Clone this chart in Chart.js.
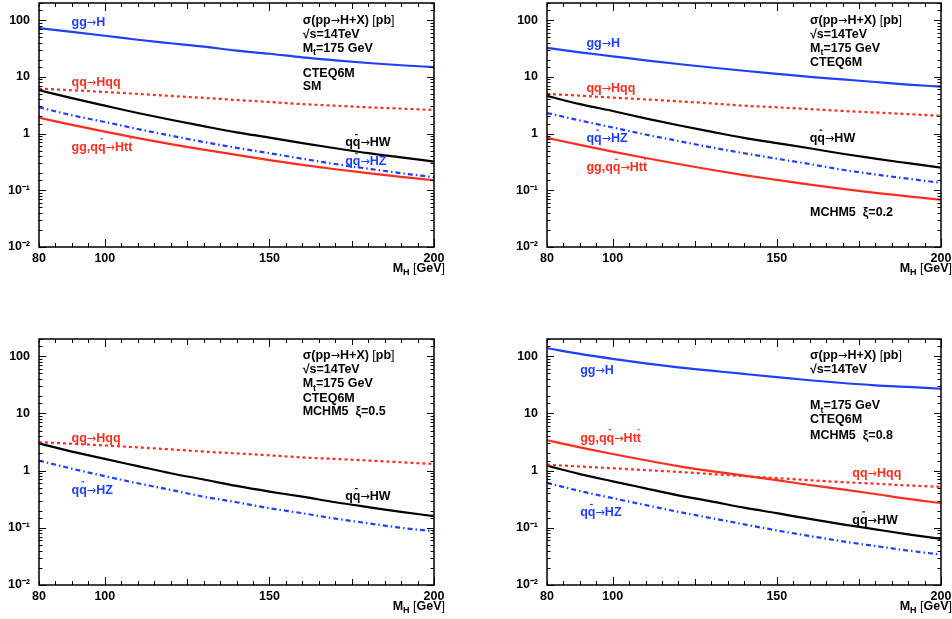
<!DOCTYPE html>
<html>
<head>
<meta charset="utf-8">
<script src="https://cdn.jsdelivr.net/npm/chart.js@4"></script>
<style>
 body { margin:0; background:#fff; }
 .panel { position:absolute; width:476px; height:310px; }
</style>
</head>
<body>
<div class="panel" style="left:0;top:0"><canvas id="c1"></canvas></div>
<div class="panel" style="left:476px;top:0"><canvas id="c2"></canvas></div>
<div class="panel" style="left:0;top:310px"><canvas id="c3"></canvas></div>
<div class="panel" style="left:476px;top:310px"><canvas id="c4"></canvas></div>
<script>
// Higgs mass points (GeV)
const massH = [80, 90, 100, 110, 120, 130, 140, 150, 160, 170, 180, 190, 200];

// cross sections in pb, SM
const smGGH = [72, 62, 53, 45, 39, 34, 29, 25.5, 22, 19.5, 17.5, 16, 14.8];
const smHqq = [6.2, 5.8, 5.4, 5.0, 4.6, 4.25, 3.9, 3.6, 3.3, 3.1, 2.9, 2.75, 2.6];
const smHW  = [5.8, 4.2, 3.1, 2.3, 1.75, 1.35, 1.05, 0.85, 0.68, 0.55, 0.45, 0.38, 0.32];
const smHZ  = [2.9, 2.1, 1.6, 1.2, 0.92, 0.71, 0.56, 0.45, 0.36, 0.29, 0.24, 0.2, 0.17];
const smHtt = [1.9, 1.42, 1.08, 0.83, 0.65, 0.52, 0.42, 0.34, 0.28, 0.235, 0.2, 0.172, 0.15];

// MCHM5 xi=0.2
const x2GGH = [32.5, 27, 23, 19.5, 16.8, 14.6, 12.8, 11.3, 10, 9, 8.1, 7.3, 6.7];
const x2Hqq = [5.0, 4.65, 4.3, 4.0, 3.7, 3.4, 3.1, 2.9, 2.7, 2.5, 2.35, 2.2, 2.05];
const x2HW  = [4.6, 3.3, 2.5, 1.85, 1.4, 1.08, 0.84, 0.68, 0.55, 0.44, 0.36, 0.3, 0.25];
const x2HZ  = [2.3, 1.7, 1.28, 0.96, 0.74, 0.57, 0.45, 0.36, 0.29, 0.23, 0.19, 0.16, 0.135];
const x2Htt = [0.84, 0.63, 0.48, 0.37, 0.29, 0.23, 0.185, 0.152, 0.126, 0.106, 0.09, 0.078, 0.068];

// MCHM5 xi=0.5 (no gg->H, no ttH)
const x5Hqq = [3.15, 2.95, 2.75, 2.55, 2.35, 2.15, 2.0, 1.85, 1.7, 1.6, 1.5, 1.4, 1.3];
const x5HW  = [3.0, 2.15, 1.6, 1.2, 0.9, 0.7, 0.54, 0.43, 0.35, 0.28, 0.23, 0.19, 0.16];
const x5HZ  = [1.5, 1.08, 0.8, 0.6, 0.46, 0.35, 0.28, 0.22, 0.18, 0.145, 0.12, 0.1, 0.087];

// MCHM5 xi=0.8
const x8GGH = [138, 110, 90, 75, 64, 56, 49, 43, 38, 34, 31, 29, 27];
const x8Htt = [3.4, 2.55, 1.95, 1.52, 1.2, 0.98, 0.82, 0.68, 0.56, 0.47, 0.39, 0.32, 0.27];
const x8Hqq = [1.27, 1.18, 1.1, 1.02, 0.95, 0.87, 0.8, 0.74, 0.68, 0.63, 0.59, 0.55, 0.52];
const x8HW  = [1.22, 0.87, 0.65, 0.49, 0.37, 0.29, 0.225, 0.18, 0.143, 0.115, 0.094, 0.077, 0.064];
const x8HZ  = [0.61, 0.44, 0.33, 0.25, 0.19, 0.148, 0.115, 0.09, 0.072, 0.058, 0.048, 0.04, 0.034];

const xTickLabels = [80, 100, 150, 200];
const yTickLabels = {100: '100', 10: '10', 1: '1', 0.1: '10\u207B\u00B9', 0.01: '10\u207B\u00B2'};

const BLUE = '#1f3fff', RED = '#ff2d1e', BLACK = '#000';
const FONT = '"Liberation Sans", Arial, Helvetica, sans-serif';
const ARROW_FONT = '"DejaVu Sans", sans-serif';

// curve styles
const styles = {
  ggH: {color: BLUE, dash: []},
  Hqq: {color: RED, dash: [3, 3]},
  HW:  {color: BLACK, dash: []},
  HZ:  {color: BLUE, dash: [5, 3, 1.5, 3]},
  Htt: {color: RED, dash: []}
};

// labels: [markup, x(GeV), y(pb), colour]; _{..} sub, #b{..} overbar, #n{..} normal weight
const header = [
  ['\u03C3(pp\u2192H+X) #n{[}pb#n{]}', 160.1, 104, BLACK],
  ['\u221As=14TeV', 160.1, 59, BLACK]
];

const panels = [
  {id: 'c1', yWidth: 39, top: 3, xHeight: 63,
   series: [['ggH', smGGH], ['Hqq', smHqq], ['HW', smHW], ['HZ', smHZ], ['Htt', smHtt]],
   labels: header.concat([
     ['M_{t}=175 GeV', 160.1, 33, BLACK],
     ['CTEQ6M', 160.1, 12.1, BLACK],
     ['SM', 160.1, 7.1, BLACK],
     ['gg\u2192H', 89.9, 94, BLUE],
     ['qq\u2192Hqq', 89.9, 8.3, RED],
     ['gg,q#b{q}\u2192Ht#b{t}', 89.9, 0.6, RED],
     ['q#b{q}\u2192HW', 173, 0.71, BLACK],
     ['q#b{q}\u2192HZ', 173, 0.33, BLUE]
   ])},
  {id: 'c2', yWidth: 71, top: 3, xHeight: 63,
   series: [['ggH', x2GGH], ['Hqq', x2Hqq], ['HW', x2HW], ['HZ', x2HZ], ['Htt', x2Htt]],
   labels: header.concat([
     ['M_{t}=175 GeV', 160.1, 33, BLACK],
     ['CTEQ6M', 160.1, 18.3, BLACK],
     ['MCHM5  \u03BE=0.2', 160.1, 0.042, BLACK],
     ['gg\u2192H', 92, 40, BLUE],
     ['qq\u2192Hqq', 92, 6.4, RED],
     ['q#b{q}\u2192HZ', 92, 0.85, BLUE],
     ['gg,q#b{q}\u2192Ht#b{t}', 92, 0.26, RED],
     ['q#b{q}\u2192HW', 160, 0.85, BLACK]
   ])},
  {id: 'c3', yWidth: 39, top: 29, xHeight: 35,
   series: [['Hqq', x5Hqq], ['HW', x5HW], ['HZ', x5HZ]],
   labels: [
     ['\u03C3(pp\u2192H+X) #n{[}pb#n{]}', 160.1, 106, BLACK],
     ['\u221As=14TeV', 160.1, 61.5, BLACK],
     ['M_{t}=175 GeV', 160.1, 34.5, BLACK],
     ['CTEQ6M', 160.1, 18.8, BLACK],
     ['MCHM5  \u03BE=0.5', 160.1, 11.2, BLACK],
     ['qq\u2192Hqq', 89.9, 3.86, RED],
     ['q#b{q}\u2192HZ', 89.9, 0.476, BLUE],
     ['q#b{q}\u2192HW', 173, 0.36, BLACK]
   ]},
  {id: 'c4', yWidth: 71, top: 29, xHeight: 35,
   series: [['ggH', x8GGH], ['Htt', x8Htt], ['Hqq', x8Hqq], ['HW', x8HW], ['HZ', x8HZ]],
   labels: [
     ['\u03C3(pp\u2192H+X) #n{[}pb#n{]}', 160.1, 106, BLACK],
     ['\u221As=14TeV', 160.1, 61.5, BLACK],
     ['M_{t}=175 GeV', 160.1, 14.3, BLACK],
     ['CTEQ6M', 160.1, 8.0, BLACK],
     ['MCHM5  \u03BE=0.8', 160.1, 4.24, BLACK],
     ['gg\u2192H', 90.1, 59, BLUE],
     ['gg,q#b{q}\u2192Ht#b{t}', 90.1, 3.86, RED],
     ['qq\u2192Hqq', 173, 0.92, RED],
     ['q#b{q}\u2192HZ', 90.1, 0.19, BLUE],
     ['q#b{q}\u2192HW', 173, 0.141, BLACK]
   ]}
];

// split tiny markup into segments, arrows get their own segment
function parseMarkup(s){
  const segs = [];
  const re = /(_\{([^}]*)\})|(#b\{([^}]*)\})|(#n\{([^}]*)\})|(\u2192)|([^_#\u2192]+)/g;
  let m;
  while ((m = re.exec(s)) !== null) {
    if (m[1]) segs.push({t: m[2], sub: true});
    else if (m[3]) segs.push({t: m[4], bar: true});
    else if (m[5]) segs.push({t: m[6], normal: true});
    else if (m[7]) segs.push({t: m[7], arrow: true});
    else segs.push({t: m[8]});
  }
  return segs;
}

function drawRich(ctx, text, x, y, color, size, align){
  const segs = parseMarkup(text);
  const fontOf = sg => {
    if (sg.arrow) return size * 0.9 + 'px ' + ARROW_FONT;
    return (sg.normal ? '' : 'bold ') + (sg.sub ? size * 0.72 : size) + 'px ' + FONT;
  };
  let total = 0;
  segs.forEach(sg => { ctx.font = fontOf(sg); total += ctx.measureText(sg.t).width; });
  let cx = align === 'right' ? x - total : x;
  ctx.fillStyle = color;
  ctx.strokeStyle = color;
  ctx.textBaseline = 'alphabetic';
  ctx.textAlign = 'left';
  const base = y + size * 0.36;
  segs.forEach(sg => {
    ctx.font = fontOf(sg);
    const w = ctx.measureText(sg.t).width;
    ctx.fillText(sg.t, cx, sg.sub ? base + size * 0.28 : base);
    if (sg.bar) {
      ctx.lineWidth = 1.2;
      ctx.setLineDash([]);
      ctx.beginPath();
      ctx.moveTo(cx + w * 0.3, base - size * 0.95);
      ctx.lineTo(cx + w * 0.65, base - size * 0.95);
      ctx.stroke();
    }
    cx += w;
  });
}

const rootDecor = {
  id: 'rootDecor',
  afterDatasetsDraw(chart, args, opts){
    const ctx = chart.ctx;
    const a = chart.chartArea;
    const xs = chart.scales.x, ys = chart.scales.y;
    ctx.save();
    ctx.strokeStyle = '#000';
    ctx.setLineDash([]);
    // inward ticks on all four sides
    ctx.lineWidth = 1;
    ctx.beginPath();
    xs.ticks.forEach(t => {
      const px = Math.round(xs.getPixelForValue(t.value)) + 0.5;
      const len = t.value % 50 === 0 ? 8 : (t.value % 25 === 0 ? 6 : 4);
      ctx.moveTo(px, a.bottom); ctx.lineTo(px, a.bottom - len);
      ctx.moveTo(px, a.top); ctx.lineTo(px, a.top + len);
    });
    ys.ticks.forEach(t => {
      if (t.value > ys.max || t.value < ys.min) return;
      const py = Math.round(ys.getPixelForValue(t.value)) + 0.5;
      const lg = Math.log10(t.value);
      const len = Math.abs(lg - Math.round(lg)) < 1e-6 ? 7 : 3.5;
      ctx.moveTo(a.left, py); ctx.lineTo(a.left + len, py);
      ctx.moveTo(a.right, py); ctx.lineTo(a.right - len, py);
    });
    ctx.stroke();
    // frame
    ctx.lineWidth = 1.5;
    ctx.strokeRect(a.left, a.top, a.right - a.left, a.bottom - a.top);
    // text labels placed in data coordinates
    opts.labels.forEach(l => {
      drawRich(ctx, l[0], xs.getPixelForValue(l[1]), ys.getPixelForValue(l[2]), l[3], 12.5, 'left');
    });
    // axis title
    drawRich(ctx, 'M_{H} #n{[}GeV#n{]}', a.right + 11, a.bottom + 20, '#000', 12.5, 'right');
    ctx.restore();
  }
};

panels.forEach(p => {
  const canvas = document.getElementById(p.id);
  canvas.width = 476; canvas.height = 310;
  new Chart(canvas, {
    type: 'line',
    data: {
      datasets: p.series.map(s => ({
        label: s[0],
        data: massH.map((m, i) => ({x: m, y: s[1][i]})),
        borderColor: styles[s[0]].color,
        borderDash: styles[s[0]].dash,
        borderWidth: 2.2,
        pointRadius: 0,
        tension: 0.4,
        cubicInterpolationMode: 'monotone',
        fill: false
      }))
    },
    options: {
      responsive: false,
      animation: false,
      events: [],
      layout: {padding: {left: 0, right: p.yWidth === 39 ? 42 : 11, top: p.top, bottom: 0}},
      plugins: {
        legend: {display: false},
        tooltip: {enabled: false},
        rootDecor: {labels: p.labels}
      },
      scales: {
        x: {
          type: 'linear', min: 80, max: 200,
          border: {display: false},
          grid: {display: false, drawTicks: false},
          ticks: {
            stepSize: 5, autoSkip: false, maxRotation: 0, padding: 4,
            color: '#000', font: {family: FONT, size: 12.5, weight: 'bold'},
            callback: v => xTickLabels.includes(v) ? String(v) : ''
          },
          afterFit: s => { s.height = p.xHeight; s.paddingLeft = 0; s.paddingRight = 0; }
        },
        y: {
          type: 'logarithmic', min: 0.01, max: 200,
          border: {display: false},
          grid: {display: false, drawTicks: false},
          ticks: {
            autoSkip: false, padding: 9,
            color: '#000', font: {family: FONT, size: 12.5, weight: 'bold'},
            callback: v => yTickLabels[v] !== undefined ? yTickLabels[v] : ''
          },
          afterFit: s => { s.width = p.yWidth; s.paddingTop = 0; s.paddingBottom = 0; }
        }
      }
    },
    plugins: [rootDecor]
  });
});
</script>
</body>
</html>
